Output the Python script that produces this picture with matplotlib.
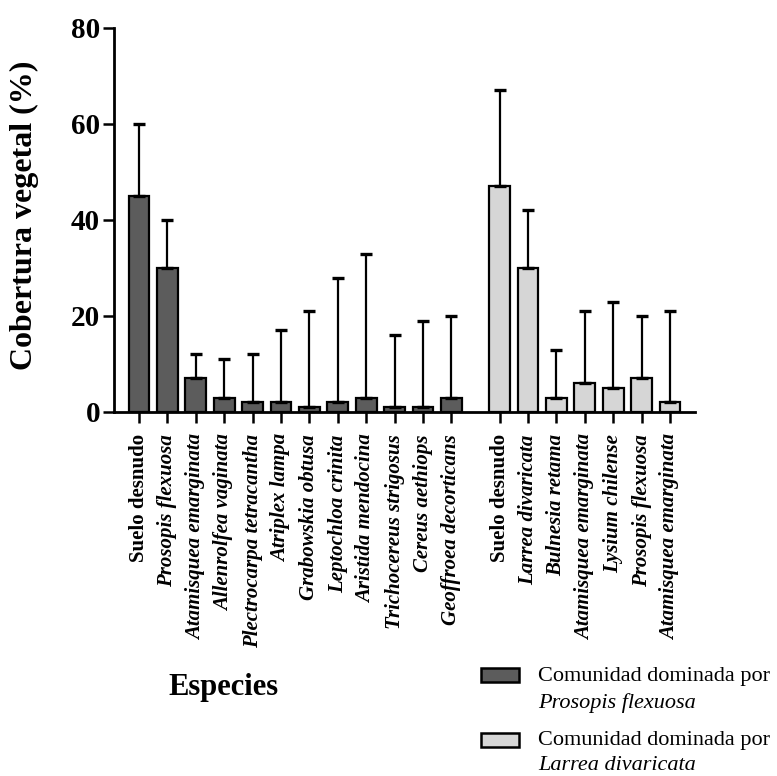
import numpy as np
import matplotlib.pyplot as plt
from matplotlib.patches import Rectangle

plt.rcParams['font.family'] = ['Liberation Serif', 'DejaVu Serif']

# Comunidad dominada por Prosopis flexuosa
especies_pf = ['Suelo desnudo', 'Prosopis flexuosa', 'Atamisquea emarginata',
               'Allenrolfea vaginata', 'Plectrocarpa tetracantha', 'Atriplex lampa',
               'Grabowskia obtusa', 'Leptochloa crinita', 'Aristida mendocina',
               'Trichocereus strigosus', 'Cereus aethiops', 'Geoffroea decorticans']
cobertura_pf = [45, 30, 7, 3, 2, 2, 1, 2, 3, 1, 1, 3]
error_pf = [15, 10, 5, 8, 10, 15, 20, 26, 30, 15, 18, 17]

# Comunidad dominada por Larrea divaricata
especies_ld = ['Suelo desnudo', 'Larrea divaricata', 'Bulnesia retama',
               'Atamisquea emarginata', 'Lysium chilense', 'Prosopis flexuosa',
               'Atamisquea emarginata']
cobertura_ld = [47, 30, 3, 6, 5, 7, 2]
error_ld = [20, 12, 10, 15, 18, 13, 19]

color_pf = '#5c5c5c'
color_ld = '#d6d6d6'

x_pf = np.arange(len(especies_pf))
x_ld = np.arange(len(especies_ld)) + len(especies_pf) + 0.7

fig = plt.figure(figsize=(7.77, 7.76), dpi=100)
ax = fig.add_axes([114 / 777, 1 - 412 / 776, 581 / 777, 384 / 776])

err_kw = dict(ecolor='black', elinewidth=1.6, capsize=4, capthick=2.4)
ax.bar(x_pf, cobertura_pf, width=0.73, color=color_pf, edgecolor='black',
       linewidth=1.6, yerr=[np.zeros(len(error_pf)), error_pf], error_kw=err_kw, zorder=2)
ax.bar(x_ld, cobertura_ld, width=0.73, color=color_ld, edgecolor='black',
       linewidth=1.6, yerr=[np.zeros(len(error_ld)), error_ld], error_kw=err_kw, zorder=2)

ax.set_xlim(-0.88, x_ld[-1] + 0.88)
ax.set_ylim(0, 80)
ax.set_yticks([0, 20, 40, 60, 80])
ax.tick_params(axis='y', length=8, width=1.8, labelsize=21, pad=2)
ax.tick_params(axis='x', length=8, width=1.8, pad=8)
for lbl in ax.get_yticklabels():
    lbl.set_fontweight('bold')

ax.set_xticks(np.concatenate([x_pf, x_ld]))
ax.set_xticklabels(especies_pf + especies_ld, rotation=90, fontsize=15,
                   fontweight='bold', va='top', ha='center')
for lbl in ax.get_xticklabels():
    if lbl.get_text() != 'Suelo desnudo':
        lbl.set_fontstyle('italic')

for s in ['top', 'right']:
    ax.spines[s].set_visible(False)
for s in ['left', 'bottom']:
    ax.spines[s].set_linewidth(2)

fig.text(24 / 777, 1 - 215 / 776, 'Cobertura vegetal (%)', rotation=90,
         fontsize=23, fontweight='bold', ha='center', va='center')
fig.text(223 / 777, 1 - 688 / 776, 'Especies', fontsize=22, fontweight='bold',
         ha='center', va='center')

# leyenda
leyenda = [(color_pf, 'Prosopis flexuosa', 675, 677, 703),
           (color_ld, 'Larrea divaricata', 740, 740, 765)]
for col, sp, y_box, y_l1, y_l2 in leyenda:
    fig.patches.append(Rectangle((481 / 777, 1 - (y_box + 7) / 776), 38 / 777, 14 / 776,
                                 transform=fig.transFigure, facecolor=col,
                                 edgecolor='black', linewidth=1.8))
    fig.text(538 / 777, 1 - y_l1 / 776, 'Comunidad dominada por', fontsize=16,
             ha='left', va='center')
    fig.text(538 / 777, 1 - y_l2 / 776, sp, fontsize=16, fontstyle='italic',
             ha='left', va='center')

fig.savefig('out.png', dpi=100)
